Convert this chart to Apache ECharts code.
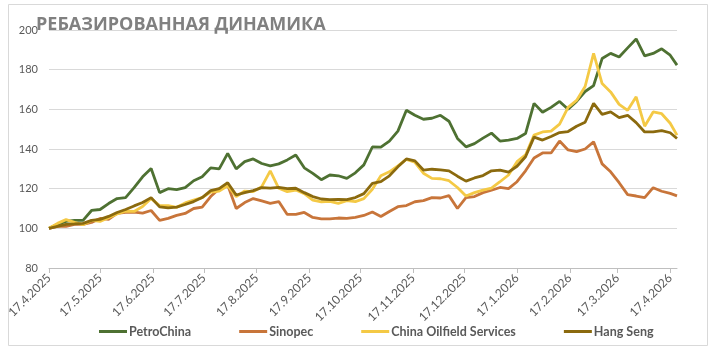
<!DOCTYPE html>
<html>
<head>
<meta charset="utf-8">
<script src="https://cdn.jsdelivr.net/npm/echarts@6.0.0/dist/echarts.min.js"></script>
<style>
  html, body { margin: 0; padding: 0; background: #fff; }
  #chart { width: 713px; height: 352px; }
</style>
</head>
<body>
<div id="chart"></div>
<script>
// days after 17.4.2025 for each reading
const days = [0, 5, 10, 15, 20, 25, 30, 35, 40, 45, 50, 55, 60, 65, 70, 75, 80, 85, 90, 95,
  100, 105, 110, 115, 120, 125, 130, 135, 140, 145, 150, 155, 160, 165, 170, 175, 180, 185, 190, 195,
  200, 205, 210, 215, 220, 225, 230, 235, 240, 245, 250, 255, 260, 265, 270, 275, 280, 285, 290, 295,
  300, 305, 310, 315, 320, 325, 330, 335, 340, 345, 350, 355, 360, 365, 369]

const petroChina = [100, 102, 103.5, 104, 104, 109, 109.5, 112.5, 115, 115.5, 120.5, 126, 130.2, 118, 120, 119.5, 120.5, 124, 126, 130.5,
  130, 137.8, 130, 133.6, 135, 132.7, 131.5, 132.5, 134.5, 137, 130.5, 127.7, 124.5, 126.9, 126.5, 125.2, 128, 132, 141, 140.9,
  144, 149, 159.5, 157, 155, 155.5, 157, 154, 145.3, 141.1, 142.7, 145.5, 148, 144, 144.5, 145.3, 147.8, 163, 158.5, 161,
  164, 160, 164, 169, 172, 185.6, 188.2, 186.4, 191, 195.5, 187, 188.2, 190.5, 187.3, 182.3]

const sinopec = [100, 101, 101, 102, 102, 103, 105, 104.5, 107.5, 108, 108.2, 107.7, 109, 104, 105, 106.5, 107.5, 110, 110.7, 116,
  120, 121.8, 110, 113, 115, 113.8, 112.6, 113.5, 107, 107, 108, 105.5, 104.8, 104.8, 105.2, 105, 105.5, 106.5, 108.2, 106,
  108.5, 110.9, 111.5, 113.4, 114, 115.5, 115.3, 116.5, 110, 115.5, 116, 118, 119.2, 120.6, 120, 123.5, 129, 135.5, 138, 138,
  144, 139.5, 138.7, 140, 143.6, 132.5, 128.5, 123, 117, 116.3, 115.5, 120.5, 118.7, 117.6, 116.4]

const chinaOilfield = [100, 102.5, 104.4, 103, 101.8, 104, 103.5, 105.3, 107.2, 108.7, 108.5, 111, 115, 111.5, 111.5, 110.6, 112.8, 114.2, 115.5, 118.3,
  118.8, 121.5, 116, 118.8, 118.5, 121, 129, 120.2, 118.5, 119.3, 117.5, 114.2, 113.4, 113.6, 112.6, 114, 113.5, 115, 119.7, 126.5,
  128.5, 131.5, 134.8, 133.3, 127.8, 125.2, 125, 124, 120.6, 116.3, 118, 119.3, 120.3, 123.5, 126.9, 133.6, 137, 147, 148.6, 149,
  152.5, 161, 164.5, 171.5, 188.2, 173, 168.8, 162.5, 159.5, 166.3, 151.5, 158.7, 157.8, 153, 147]

const hangSeng = [100, 101, 102, 102.2, 102.5, 104, 104.5, 106, 108, 109.5, 111.3, 113, 115.5, 110.8, 110.3, 110.7, 112, 113.5, 115.5, 119,
  120, 123, 116.8, 118, 119, 120.5, 120.3, 120.6, 120, 120.2, 118, 116, 114.8, 114.5, 114.6, 114.5, 115.5, 117.5, 122.7, 123.5,
  126.5, 131, 135, 134, 129.4, 129.8, 129.5, 129, 126.3, 123.8, 125.4, 126.6, 129, 129.4, 128.3, 131.3, 136.1, 146, 144.5, 146.3,
  148.3, 148.8, 151.5, 153.5, 163, 157.5, 158.7, 155.8, 157, 153.3, 148.6, 148.6, 149.3, 148.2, 145.3]

const tickLabels = ['17.4.2025', '17.5.2025', '17.6.2025', '17.7.2025', '17.8.2025', '17.9.2025', '17.10.2025',
  '17.11.2025', '17.12.2025', '17.1.2026', '17.2.2026', '17.3.2026', '17.4.2026']

const seriesNames = ['PetroChina', 'Sinopec', 'China Oilfield Services', 'Hang Seng']
const seriesColors = ['#4e7132', '#c8753a', '#f4c945', '#8b6a0e']

const startMs = Date.UTC(2025, 3, 17)
function dayOffset(label) {
  const [d, m, y] = label.split('.').map(Number)
  return Math.round((Date.UTC(y, m - 1, d) - startMs) / 86400000)
}
const tickDays = tickLabels.map(dayOffset)

const font = 'Lato, "Noto Sans", sans-serif'
const allValues = [petroChina, sinopec, chinaOilfield, hangSeng]

const chart = echarts.init(document.getElementById('chart'))
chart.setOption({
  animation: false,
  backgroundColor: '#fff',
  title: {
    text: 'РЕБАЗИРОВАННАЯ ДИНАМИКА',
    left: 31,
    top: 11,
    textStyle: {
      fontFamily: '"Open Sans", "Noto Sans", sans-serif',
      fontSize: 18,
      fontWeight: 'bold',
      color: '#808080'
    }
  },
  graphic: [{
    type: 'rect',
    shape: { x: 8.5, y: 4.5, width: 699, height: 341 },
    style: { fill: 'none', stroke: '#d9d9d9', lineWidth: 1 },
    silent: true
  }],
  legend: {
    left: 94,
    top: 320,
    itemWidth: 28,
    itemHeight: 3,
    itemGap: 48,
    icon: 'rect',
    textStyle: {
      fontFamily: font,
      fontSize: 12.5,
      fontWeight: 'bold',
      color: '#595959',
      padding: [0, 0, 0, -3]
    },
    data: seriesNames
  },
  grid: {
    left: 49,
    right: 36,
    top: 30,
    bottom: 84,
    containLabel: false,
    outerBoundsMode: 'none'
  },
  xAxis: {
    type: 'value',
    min: 0,
    max: 369,
    axisLine: { lineStyle: { color: '#bfbfbf', width: 1 } },
    axisTick: {
      show: true,
      length: 5,
      lineStyle: { color: '#bfbfbf' },
      customValues: tickDays
    },
    axisLabel: {
      rotate: 45,
      margin: 8,
      fontFamily: font,
      fontSize: 12,
      color: '#595959',
      customValues: tickDays,
      formatter: v => tickLabels[tickDays.indexOf(Math.round(v))] || ''
    },
    splitLine: { show: false }
  },
  yAxis: {
    type: 'value',
    min: 80,
    max: 200,
    interval: 20,
    axisLine: { show: false },
    axisTick: { show: false },
    axisLabel: {
      margin: 11,
      fontFamily: font,
      fontSize: 11,
      color: '#595959'
    },
    splitLine: { lineStyle: { color: '#d9d9d9', width: 1 } }
  },
  series: seriesNames.map((name, i) => ({
    name,
    type: 'line',
    symbol: 'none',
    color: seriesColors[i],
    lineStyle: { width: 2.8, color: seriesColors[i] },
    data: days.map((d, k) => [d, allValues[i][k]])
  }))
})
</script>
</body>
</html>
